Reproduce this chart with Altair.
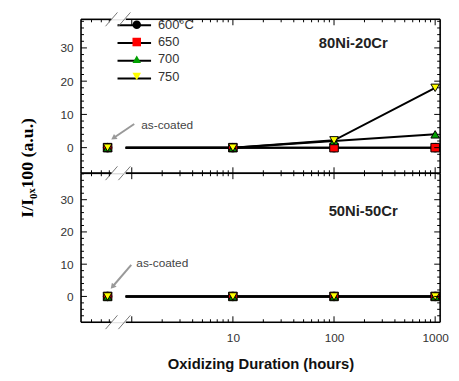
import altair as alt
import pandas as pd

# ---------------- data ----------------
series = ["600°C", "650", "700", "750"]
fill_colors = ["#000000", "#ff0000", "#00a000", "#ffff00"]
shapes = ["circle", "square", "triangle-up", "triangle-down"]

hours = [10, 100, 1000]
as_coated_x = 0.577      # position of the "as-coated" point (axis break side)
line_start_x = 0.87      # lines start right after the axis break
as_coated_val = 0

top_600 = [0, 0, 0]
top_650 = [0, 0, 0]
top_700 = [0, 2.0, 4.0]
top_750 = [0, 2.2, 18.0]

bottom_600 = [0, 0, 0]
bottom_650 = [0, 0, 0]
bottom_700 = [0, 0, 0]
bottom_750 = [0, 0, 0]

y_major = [0, 10, 20, 30]
y_minor = [v for v in range(-6, 39, 2) if v % 10 != 0]
x_major = [1, 10, 100, 1000]
x_minor = [0.4, 0.5, 0.6] + [k * 10 ** d for d in range(3) for k in range(2, 10)]
x_labels = [10, 100, 1000]

x_domain = [0.315, 1120]
top_y_domain = [-7.7, 38.6]
bottom_y_domain = [-8.0, 38.2]

# axis-break (gap in the frame, slashes)
frame_gap = [0.631, 0.874]
slash_x1 = [0.551, 0.738]
slash_x2 = [0.722, 0.970]

W = 364
H_TOP = 156
H_BOT = 151

FONT = "Liberation Sans"

# legend geometry (panel pixels)
LEG_X = 50
LEG_Y = -1
LEG_ROW = 18
LEG_FIRST = 6
LEG_LINE = [37, 71]


def panel(vals, ydom, H, label, label_x, label_y,
          note_text_xy, note_arrow, arrow_angle, is_top):
    xs = alt.Scale(type="log", domain=x_domain, nice=False)
    ys = alt.Scale(domain=ydom, nice=False, zero=False)

    line_rows, pt_rows = [], []
    for s, v in zip(series, vals):
        line_rows.append({"series": s, "x": line_start_x, "y": 0, "o": 0})
        pt_rows.append({"series": s, "x": as_coated_x, "y": as_coated_val})
        for i, (h, val) in enumerate(zip(hours, v)):
            line_rows.append({"series": s, "x": h, "y": val, "o": i + 1})
            pt_rows.append({"series": s, "x": h, "y": val})
    ldf = pd.DataFrame(line_rows)
    pdf = pd.DataFrame(pt_rows)

    if is_top:
        xaxis = None
        yaxis = alt.Axis(values=y_major, ticks=False, domain=False, grid=False,
                         labelFont=FONT, labelFontSize=12, labelColor="#333",
                         labelPadding=8,
                         title="I/I₀ₓ100 (a.u.)", titleFont="Liberation Serif",
                         titleFontSize=18, titleFontWeight="bold",
                         titleColor="#000", titlePadding=24, titleY=150)
    else:
        xaxis = alt.Axis(values=x_labels, ticks=False, domain=False, grid=False,
                         labelFont=FONT, labelFontSize=12, labelColor="#333",
                         labelPadding=11, labelExpr="format(datum.value, 'd')",
                         title="Oxidizing Duration (hours)", titleFont=FONT,
                         titleFontSize=15, titleFontWeight="bold",
                         titleColor="#111", titlePadding=13)
        yaxis = alt.Axis(values=y_major, ticks=False, domain=False, grid=False,
                         labelFont=FONT, labelFontSize=12, labelColor="#333",
                         labelPadding=8, title=None)

    X = alt.X("x:Q", scale=xs, axis=xaxis)
    Y = alt.Y("y:Q", scale=ys, axis=yaxis)

    layers = []

    # legend sample lines (drawn under the legend symbols)
    if is_top:
        lg = pd.DataFrame({"row": list(range(len(series)))})
        layers.append(alt.Chart(lg).mark_rule(color="black", strokeWidth=2).transform_calculate(
            ly="%d + %d * datum.row" % (LEG_FIRST, LEG_ROW)).encode(
            y=alt.Y("ly:Q", scale=None), x=alt.value(LEG_LINE[0]), x2=alt.value(LEG_LINE[1])))

    lines = alt.Chart(ldf).mark_line(color="black", strokeWidth=2).encode(
        x=X, y=Y, detail="series:N", order="o:Q")

    legend = alt.Legend(orient="none", legendX=LEG_X, legendY=LEG_Y, title=None,
                        labelFont=FONT, labelFontSize=13, labelColor="#333",
                        symbolSize=75, symbolStrokeColor="black",
                        symbolStrokeWidth=1, rowPadding=3.5, labelOffset=15) if is_top else None
    points = alt.Chart(pdf).mark_point(filled=True, stroke="black", strokeWidth=1,
                                       size=75, opacity=1).encode(
        x=X, y=Y,
        fill=alt.Fill("series:N", scale=alt.Scale(domain=series, range=fill_colors),
                      legend=legend),
        shape=alt.Shape("series:N", scale=alt.Scale(domain=series, range=shapes),
                        legend=legend),
        order=alt.Order("o:Q"),
    ).transform_calculate(o="indexof(%s, datum.series)" % str(series))

    layers += [lines, points]

    # ---- inward ticks ----
    ymaj = pd.DataFrame({"y": y_major})
    ymin = pd.DataFrame({"y": y_minor})
    xmaj = pd.DataFrame({"x": x_major})
    xmin = pd.DataFrame({"x": x_minor})
    tick_style = dict(color="black", strokeWidth=1)
    for df, L in ((ymaj, 6), (ymin, 3)):
        layers.append(alt.Chart(df).mark_rule(**tick_style).encode(
            y=Y, x=alt.value(0), x2=alt.value(L)))
        layers.append(alt.Chart(df).mark_rule(**tick_style).encode(
            y=Y, x=alt.value(W), x2=alt.value(W - L)))
    for df, L in ((xmaj, 6), (xmin, 3)):
        layers.append(alt.Chart(df).mark_rule(**tick_style).encode(
            x=X, y=alt.value(0), y2=alt.value(L)))
        layers.append(alt.Chart(df).mark_rule(**tick_style).encode(
            x=X, y=alt.value(H), y2=alt.value(H - L)))

    # ---- frame with break gaps ----
    seg = pd.DataFrame({"x1": [x_domain[0], frame_gap[1]],
                        "x2": [frame_gap[0], x_domain[1]]})
    frame_style = dict(color="black", strokeWidth=1.6)
    layers.append(alt.Chart(seg).mark_rule(**frame_style).encode(
        x=alt.X("x1:Q", scale=xs, axis=xaxis), x2="x2:Q", y=alt.value(0)))
    layers.append(alt.Chart(seg).mark_rule(**frame_style).encode(
        x=alt.X("x1:Q", scale=xs, axis=xaxis), x2="x2:Q", y=alt.value(H)))
    layers.append(alt.Chart(ymaj.head(1)).mark_rule(**frame_style).encode(
        x=alt.value(0), y=alt.value(0), y2=alt.value(H)))
    layers.append(alt.Chart(ymaj.head(1)).mark_rule(**frame_style).encode(
        x=alt.value(W), y=alt.value(0), y2=alt.value(H)))

    # ---- break slashes ----
    sl = pd.DataFrame({"x1": slash_x1, "x2": slash_x2})
    slash_style = dict(color="#777", strokeWidth=1)
    edges = [0, H] if is_top else [H]
    for e in edges:
        layers.append(alt.Chart(sl).mark_rule(**slash_style).encode(
            x=alt.X("x1:Q", scale=xs, axis=xaxis), x2="x2:Q",
            y=alt.value(e + 7), y2=alt.value(e - 7)))

    # ---- panel label ----
    lab = pd.DataFrame({"x": [label_x], "y": [label_y], "t": [label]})
    layers.append(alt.Chart(lab).mark_text(font=FONT, fontSize=15, fontWeight="bold",
                                           color="#222", align="center",
                                           baseline="middle").encode(
        x=X, y=Y, text="t:N"))

    # ---- as-coated annotation ----
    nt = pd.DataFrame({"x": [note_text_xy[0]], "y": [note_text_xy[1]], "t": ["as-coated"]})
    layers.append(alt.Chart(nt).mark_text(font=FONT, fontSize=12, color="#444",
                                          align="left", baseline="middle").encode(
        x=X, y=Y, text="t:N"))
    ar = pd.DataFrame({"x": [note_arrow[0]], "y": [note_arrow[1]],
                       "x2": [note_arrow[2]], "y2": [note_arrow[3]]})
    layers.append(alt.Chart(ar).mark_rule(color="#999", strokeWidth=2).encode(
        x=X, y=Y, x2="x2:Q", y2="y2:Q"))
    layers.append(alt.Chart(ar).mark_point(shape="triangle-up", filled=True,
                                           color="#999", size=40, opacity=1,
                                           angle=arrow_angle).encode(
        x=alt.X("x2:Q", scale=xs, axis=xaxis), y=alt.Y("y2:Q", scale=ys, axis=yaxis)))

    return alt.layer(*layers).properties(width=W, height=H)


top = panel([top_600, top_650, top_700, top_750], top_y_domain, H_TOP,
            "80Ni-20Cr", 155, 31.5,
            (1.24, 6.8), (1.058, 7.1, 0.66, 2.9), 236, True)
bottom = panel([bottom_600, bottom_650, bottom_700, bottom_750], bottom_y_domain, H_BOT,
               "50Ni-50Cr", 194, 26.6,
               (1.11, 10.4), (0.989, 9.8, 0.645, 3.0), 221, False)

chart = alt.vconcat(top, bottom, spacing=0, bounds="flush").properties(
    padding={"left": 10, "top": 1, "right": 2, "bottom": 0}
).configure_view(stroke=None).configure(background="white")

chart.save("out.html", embed_options={"renderer": "svg", "actions": False})
